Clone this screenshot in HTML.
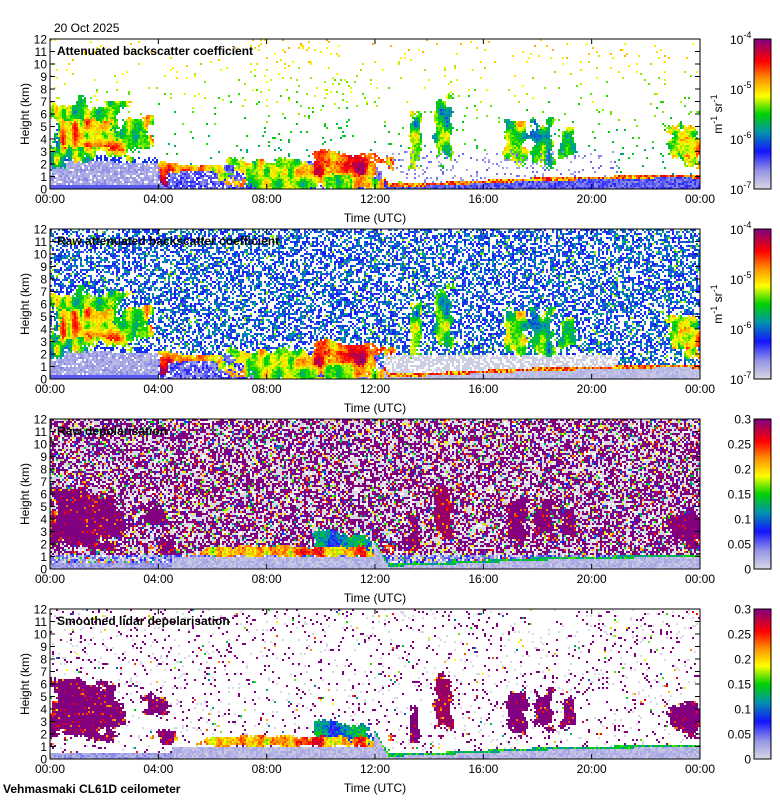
<!DOCTYPE html>
<html><head><meta charset="utf-8">
<style>
body{margin:0;background:#fff;width:780px;height:800px;overflow:hidden;position:relative;font-family:"Liberation Sans",sans-serif}
canvas{position:absolute;image-rendering:pixelated}
svg{position:absolute;left:0;top:0}
text{font-family:"Liberation Sans",sans-serif;font-size:12px;fill:#000}
.b{font-weight:bold}
</style></head><body>
<canvas id="c0" width="325" height="75" style="left:50px;top:39px;width:650px;height:150px"></canvas>
<canvas id="c1" width="325" height="75" style="left:50px;top:229px;width:650px;height:150px"></canvas>
<canvas id="c2" width="325" height="75" style="left:50px;top:419px;width:650px;height:150px"></canvas>
<canvas id="c3" width="325" height="75" style="left:50px;top:609px;width:650px;height:150px"></canvas>
<svg id="ov" width="780" height="800"></svg>
<script>
// ---- data ----
const xTickLabels=["00:00","04:00","08:00","12:00","16:00","20:00","00:00"];
const yTickLabels=[0,1,2,3,4,5,6,7,8,9,10,11,12];
const panelTitles=["Attenuated backscatter coefficient","Raw attenuated backscatter coefficient","Raw depolarisation","Smoothed lidar depolarisation"];
const bsCbarLabels=["-7","-6","-5","-4"];
const depCbarLabels=["0","0.05","0.1","0.15","0.2","0.25","0.3"];
// aerosol/boundary layer top (hours, km)
const blHours=[0,2,4,4.3,6,8,10,12,12.5,14,16,18,20,22,23,24];
const blKm=[2.2,2.2,2.0,1.8,1.8,2.0,2.3,2.3,0.4,0.5,0.7,0.9,1.0,1.1,1.2,1.1];
// backscatter cloud boxes [t0,t1,z0,z1,value(0..1 log-normalised)]
const bsClouds=[[0,2.8,2.5,7,0.52],[0.2,2.4,3.4,5.6,0.68],[0,0.6,1.5,3.6,0.5],[2.5,3.8,3,6,0.6],[3.2,3.9,3.2,4.6,0.7],
[4,4.4,0,2,0.8],[4.3,6.5,1.3,2,0.7],[6.5,12.2,0,2.3,0.6],[9.5,12.2,1,3,0.74],[10.2,11.8,1.2,2.2,0.84],
[13.3,13.7,2,6,0.5],[14.2,14.9,2,7,0.52],[16.8,17.6,2,6,0.55],[17.8,18.6,2,5.5,0.5],[18.8,19.4,2.5,5,0.5],[22.8,24,2,5,0.6],[23.3,24,2.5,4,0.72]];
// depolarisation cloud boxes [t0,t1,z0,z1,value(0..1 of 0.3)]
const depClouds=[[0,2.6,1.6,6.2,1.0],[0,1,2,5,0.85],[3.4,4.4,3.4,5.2,1.0],[4.0,4.6,1,2.2,1.0],[4.5,12,1,1.8,0.72],
[9.5,12,1,3,0.35],[13.3,13.6,1.5,4,1.0],[14.2,14.9,2,6.5,0.97],[16.9,17.6,2,6,1.0],[17.9,18.6,2.5,5.5,1.0],[18.9,19.4,2.5,5,1.0],[22.8,24,2,4.5,1.0]];
// ---- helpers ----
function hsh(a,b,c){let h=(a*374761393+b*668265263+c*2147483647)|0;h=(h^(h>>>13))*1274126177|0;h=h^(h>>>16);return (h>>>0)/4294967295;}
function vn(x,y,s){const xi=Math.floor(x),yi=Math.floor(y),fx=x-xi,fy=y-yi;const sx=fx*fx*(3-2*fx),sy=fy*fy*(3-2*fy);
  const a=hsh(xi,yi,s),b=hsh(xi+1,yi,s),c=hsh(xi,yi+1,s),d=hsh(xi+1,yi+1,s);return a+(b-a)*sx+(c-a)*sy+(a-b-c+d)*sx*sy;}
function blTop(t){for(let i=1;i<blHours.length;i++){if(t<=blHours[i]){const f=(t-blHours[i-1])/(blHours[i]-blHours[i-1]);return blKm[i-1]+f*(blKm[i]-blKm[i-1]);}}return blKm[blKm.length-1];}
const stops=[[0,[216,216,228]],[0.12,[150,150,230]],[0.25,[20,20,255]],[0.38,[0,150,170]],[0.5,[0,210,0]],[0.62,[255,255,0]],[0.74,[255,140,0]],[0.85,[255,0,0]],[1,[128,0,128]]];
function cmap(v){v=Math.max(0,Math.min(1,v));for(let i=1;i<stops.length;i++){if(v<=stops[i][0]){const f=(v-stops[i-1][0])/(stops[i][0]-stops[i-1][0]);const a=stops[i-1][1],b=stops[i][1];return [a[0]+f*(b[0]-a[0]),a[1]+f*(b[1]-a[1]),a[2]+f*(b[2]-a[2])];}}return stops[8][1];}
function inBox(t,z,b,n,r){const dt=Math.min(t-b[0],b[1]-t)/(b[1]-b[0]+0.01),dz=Math.min(z-b[2],b[3]-z)/(b[3]-b[2]+0.01);
  const e=Math.min(dt,dz)+(n-0.5)*0.35;if(e<0)return false;return r<0.5+e*5;}
function field(p,t,z,i,j){
  const r=hsh(i,j,p),r2=hsh(j,i,p+7);const top=blTop(t);
  const n=vn(i/5,j/4,3),n2=vn(i/3,j/6,11);
  const clouds=p<2?bsClouds:depClouds;let v=-1;
  for(const b of clouds){if(inBox(t,z,b,n,r)){
    let nv=p<2?(n2-0.5)*0.4+(r2-0.5)*0.1:(b[4]>=0.95?(r2<0.12?-0.3*hsh(i,j,99):0):(n2-0.5)*0.35+(r2-0.5)*0.15);
    v=Math.max(v,b[4]+nv);}}
  if(p<2){
    if(t<4){ if(z<0.3)v=Math.max(v,0.18);else if(z<top){if(r<0.9)v=Math.max(v,0.04+r2*0.1);} else if(z<top+0.5&&r<0.6)v=Math.max(v,0.28);}
    else if(t<12.3){ if(z<top && v<0 && r<0.85) v=0.1+r2*0.15; }
    else { if(z<top-0.25){v=p==1?0.02+r2*0.06:0.12+r2*0.12;} else if(z<top){v=0.6+r2*0.3;} else if(z<(p==1?2:3) && t<21 && r<0.12+(p==1?0.5:0)) v=p==1?0.02:0.08+r2*0.1; }
    if(v<0){ if(p==0){ if(r<0.025+(t>7&&t<11?0.025:0)) v=0.38+z/12*0.3+(r2-0.5)*0.12; }
      else { if(r<0.55) v=0.2+r2*0.22+(r2>0.96?0.15:0); } }
    return v<0?null:cmap(v);
  } else {
    if(t>=4.5&&t<12&&z<1&&v<0) v=0.02+r2*0.08;
    if(t>=12&&z<top){v=z>top-0.2?0.35+r2*0.2:0.02+r2*0.08;}
    if(t<4.5&&z<0.5&&v<0)v=0.05+r2*0.1;
    if(v<0){
      if(p==2){ if(r<0.45)v=1;else if(r<0.78)v=0.0;else if(r<0.88)return null;else v=0.2+r2*0.7; if(z<1.2&&r<0.6)v=0.05+r2*0.2; }
      else { if(r<0.05)v=1;else if(r<0.08)v=0;else if(r<0.09)v=0.3+r2*0.6; }
    }
    return v<0?null:cmap(v);
  }
}
for(let p=0;p<4;p++){
  const cv=document.getElementById('c'+p),ctx=cv.getContext('2d');const im=ctx.createImageData(325,75);
  for(let i=0;i<325;i++)for(let j=0;j<75;j++){
    const t=(i+0.5)/325*24,z=(74.5-j)/75*12;const c=field(p,t,z,i,j);const k=(j*325+i)*4;
    if(c){im.data[k]=c[0];im.data[k+1]=c[1];im.data[k+2]=c[2];}else{im.data[k]=im.data[k+1]=im.data[k+2]=255;}
    im.data[k+3]=255;}
  ctx.putImageData(im,0,0);
}
// ---- overlay ----
const NS="http://www.w3.org/2000/svg",ov=document.getElementById('ov');
function el(tag,at,txt){const e=document.createElementNS(NS,tag);for(const k in at)e.setAttribute(k,at[k]);if(txt!=null)e.textContent=txt;ov.appendChild(e);return e;}
const X0=50,W=650,PH=150,CBX=754,CBW=17;
const xs=h=>X0+h/24*W;
const defs=el('defs',{});
const g1=document.createElementNS(NS,'linearGradient');g1.setAttribute('id','cg');g1.setAttribute('x1','0');g1.setAttribute('y1','1');g1.setAttribute('x2','0');g1.setAttribute('y2','0');
for(const s of stops){const st=document.createElementNS(NS,'stop');st.setAttribute('offset',s[0]);st.setAttribute('stop-color','rgb('+s[1].join(',')+')');g1.appendChild(st);}
defs.appendChild(g1);
for(let p=0;p<4;p++){
  const Y0=39+p*190,ys=z=>Y0+PH-z/12*PH;
  let e=el('rect',{x:X0,y:Y0,width:W,height:PH,fill:'none',stroke:'#000','stroke-width':1});
  
  yTickLabels.forEach(v=>{const y=ys(v);
    el('line',{x1:X0,x2:X0+5,y1:y,y2:y,stroke:'#000'});el('line',{x1:X0+W-5,x2:X0+W,y1:y,y2:y,stroke:'#000'});
    e=el('text',{x:X0-3,y:y+4.5,'text-anchor':'end'},v);});
  xTickLabels.forEach((l,i)=>{const x=xs(i*4);
    el('line',{x1:x,x2:x,y1:Y0,y2:Y0+5,stroke:'#000'});el('line',{x1:x,x2:x,y1:Y0+PH-5,y2:Y0+PH,stroke:'#000'});
    e=el('text',{x:x,y:Y0+PH+14,'text-anchor':'middle'},l);});
  e=el('text',{x:X0+W/2,y:Y0+PH+33,'text-anchor':'middle'},'Time (UTC)');
  e=el('text',{x:0,y:0,'text-anchor':'middle',transform:`translate(29,${Y0+PH/2}) rotate(-90)`},'Height (km)');
  e=el('text',{x:X0+7,y:Y0+16,class:'b'},panelTitles[p]);
  e=el('rect',{x:CBX,y:Y0,width:CBW,height:PH,fill:'url(#cg)',stroke:'#000'});
  if(p<2){
    bsCbarLabels.forEach((l,i)=>{const y=Y0+PH-i/3*PH;
      const t=el('text',{x:730,y:y+5});
      t.appendChild(document.createTextNode('10'));const s=document.createElementNS(NS,'tspan');s.setAttribute('dy','-6');s.setAttribute('font-size','9');s.textContent=l;t.appendChild(s);});
    const t=el('text',{x:0,y:0,'text-anchor':'middle',transform:`translate(722,${Y0+PH/2}) rotate(-90)`});
    t.innerHTML='m<tspan dy="-5" font-size="9">-1</tspan><tspan dy="5"> sr</tspan><tspan dy="-5" font-size="9">-1</tspan>';
  } else {
    depCbarLabels.forEach((l,i)=>{const y=Y0+PH-i/6*PH;
      e=el('text',{x:751,y:y+4.5,'text-anchor':'end'},l);});
  }
}
let e=el('text',{x:54,y:32},'20 Oct 2025');
e=el('text',{x:3,y:793,class:'b'},'Vehmasmaki CL61D ceilometer');
</script>
</body></html>
